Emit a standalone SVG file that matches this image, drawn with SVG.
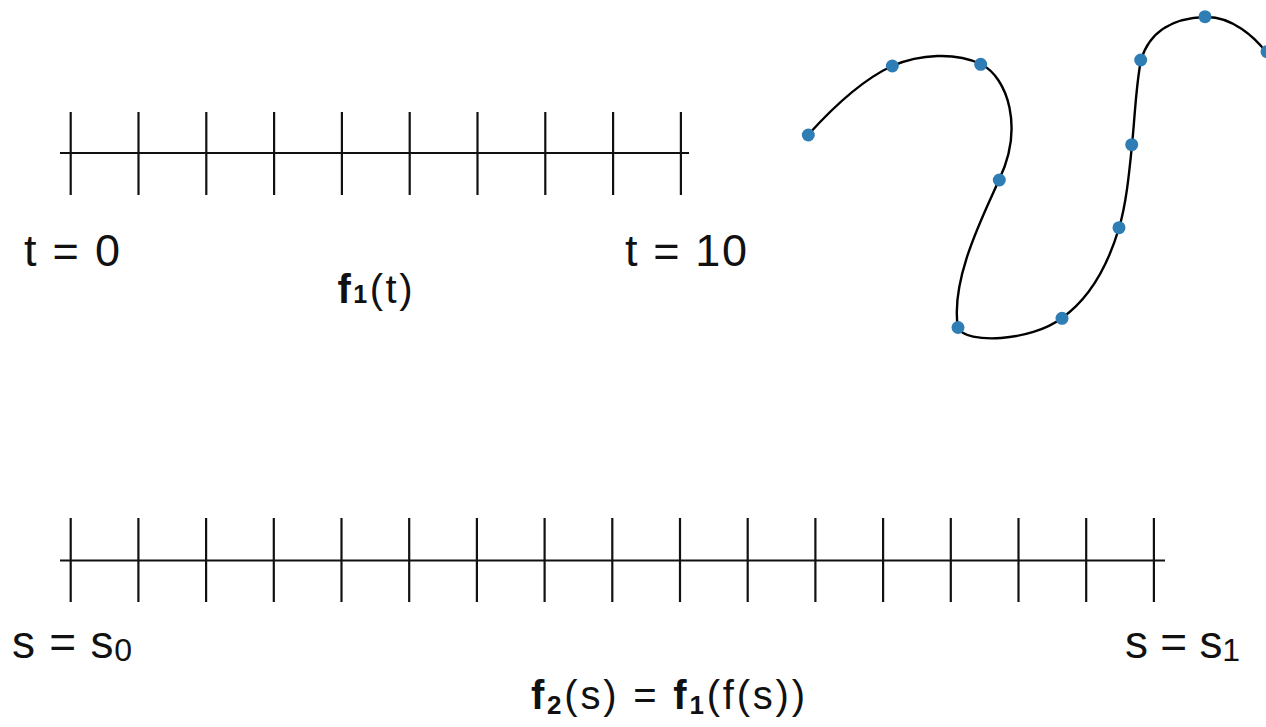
<svg xmlns="http://www.w3.org/2000/svg" width="1266" height="727" viewBox="0 0 1266 727">
<style>
.ax{stroke:#111;stroke-width:2.2;fill:none}
.crv{stroke:#000;stroke-width:2.4;fill:none}
.dot{fill:#2f7db5}
.lbl{font-family:"Liberation Sans",Arial,sans-serif;fill:#111}
.b{font-weight:bold}
</style>
<rect width="1266" height="727" fill="#fff"/>
<g id="axis-top">
<path class="ax" d="M60,153H689 M70.7,112V195 M138.5,112V195 M206.3,112V195 M274.1,112V195 M341.9,112V195 M409.7,112V195 M477.5,112V195 M545.3,112V195 M613.1,112V195 M680.9,112V195"/>
</g>
<g id="axis-bottom">
<path class="ax" d="M60,560.5H1165 M70.7,518V602 M138.4,518V602 M206.1,518V602 M273.8,518V602 M341.5,518V602 M409.2,518V602 M476.9,518V602 M544.6,518V602 M612.3,518V602 M680,518V602 M747.7,518V602 M815.4,518V602 M883.1,518V602 M950.8,518V602 M1018.5,518V602 M1086.2,518V602 M1153.9,518V602"/>
</g>
<g id="labels">
<text class="lbl" x="24" y="266" font-size="45" textLength="96" lengthAdjust="spacing">t = 0</text>
<text class="lbl" x="625" y="266" font-size="45" textLength="122" lengthAdjust="spacing">t = 10</text>
<text class="lbl" x="337.5" y="303" font-size="40" textLength="75" lengthAdjust="spacing"><tspan class="b">f</tspan><tspan class="b" font-size="25">1</tspan><tspan>(t)</tspan></text>
<text class="lbl" x="12" y="658" font-size="46" textLength="120" lengthAdjust="spacing">s = s<tspan font-size="32" dy="3">0</tspan></text>
<text class="lbl" x="1125" y="658" font-size="46" textLength="115" lengthAdjust="spacing">s = s<tspan font-size="32" dy="3">1</tspan></text>
<text class="lbl" x="531" y="709" font-size="40" textLength="274" lengthAdjust="spacing"><tspan class="b">f</tspan><tspan class="b" font-size="26" dy="5">2</tspan><tspan dy="-5">(s) = </tspan><tspan class="b">f</tspan><tspan class="b" font-size="26" dy="5">1</tspan><tspan dy="-5">(f(s))</tspan></text>
</g>
<g id="curve">
<path class="crv" d="M808,135 C835,105 862,80 892,66 C920,54 955,52 981,64 C1008,78 1024,128 999,180 C983,216 950,280 958,328 C966,344 1030,342 1062,318 C1090,298 1108,265 1119,228 C1126,205 1129,175 1132,145 C1135,115 1136,85 1141,60 C1150,30 1175,18 1205,17 C1230,16 1255,35 1272,60"/>
<circle class="dot" cx="808.3" cy="135" r="6.5"/>
<circle class="dot" cx="892.3" cy="66" r="6.5"/>
<circle class="dot" cx="980.7" cy="64.3" r="6.5"/>
<circle class="dot" cx="999.3" cy="180" r="6.5"/>
<circle class="dot" cx="958" cy="327.5" r="6.5"/>
<circle class="dot" cx="1062" cy="318.3" r="6.5"/>
<circle class="dot" cx="1119" cy="227.7" r="6.5"/>
<circle class="dot" cx="1131.7" cy="144.7" r="6.5"/>
<circle class="dot" cx="1140.7" cy="60" r="6.5"/>
<circle class="dot" cx="1205" cy="16.7" r="6.5"/>
<circle class="dot" cx="1267" cy="51.7" r="6.5"/>
</g>
</svg>
